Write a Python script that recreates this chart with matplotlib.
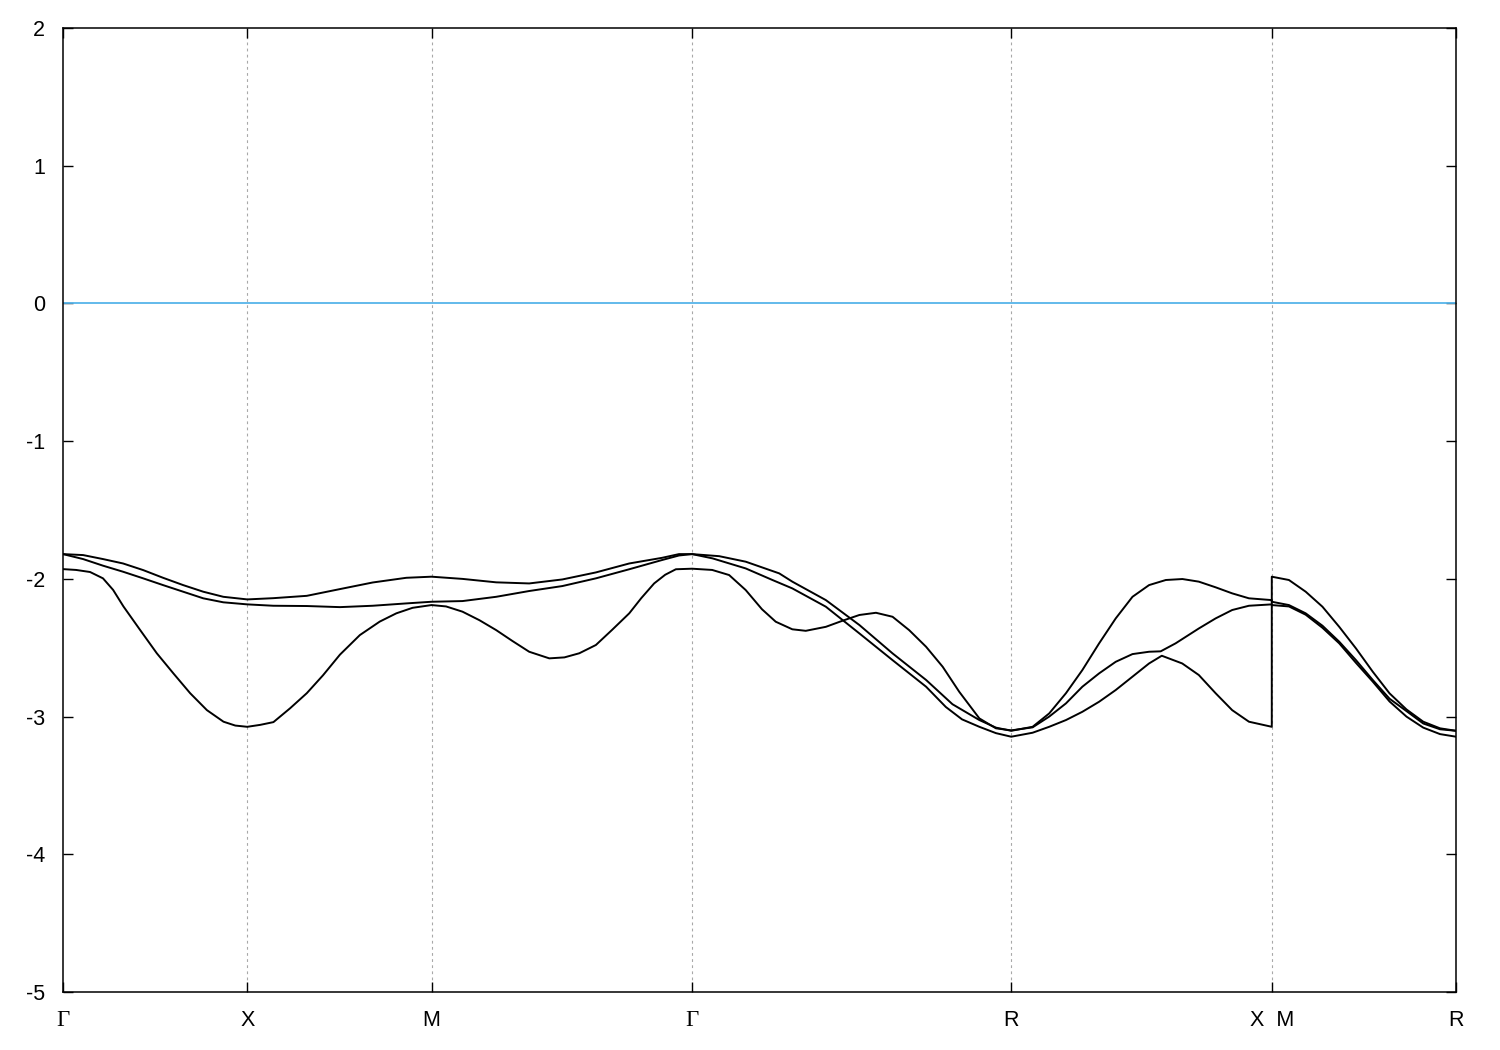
#======================================================================
#   IMPORTS:
#======================================================================

from matplotlib import pyplot as plt        # for plots


#======================================================================
#   GLOBALS:
#======================================================================

# high symmetry points along the k-path (path length units)
ls_nodes = [0.0, 1.0, 2.0, 3.414, 5.146, 6.560, 7.560]
ls_node_labels = ['\u0393', 'X', 'M', '\u0393', 'R', 'X  M', 'R']

# band A
ls_k_a = [0.0, 0.109, 0.217, 0.326, 0.435, 0.543, 0.652, 0.761, 0.870, 1.0,
          1.141, 1.323, 1.503, 1.681, 1.863, 2.0,
          2.168, 2.351, 2.530, 2.710, 2.892, 3.073, 3.251, 3.343, 3.414,
          3.561, 3.705, 3.887, 3.958, 4.140, 4.322, 4.502, 4.684, 4.827, 4.973, 5.063, 5.146,
          5.262, 5.352, 5.443, 5.532, 5.623, 5.713, 5.804, 5.894, 5.985, 6.075, 6.164, 6.255, 6.345, 6.436, 6.560,
          6.560, 6.653, 6.744, 6.835, 6.926, 7.017, 7.108, 7.199, 7.291, 7.382, 7.473, 7.560]
ls_e_a = [-1.82, -1.827, -1.856, -1.888, -1.936, -1.992, -2.045, -2.093, -2.13, -2.149,
          -2.14, -2.123, -2.074, -2.026, -1.992, -1.984,
          -2.0, -2.025, -2.033, -2.004, -1.953, -1.888, -1.847, -1.82, -1.82,
          -1.835, -1.875, -1.96, -2.02, -2.154, -2.335, -2.541, -2.734, -2.91, -3.025, -3.08, -3.103,
          -3.074, -2.977, -2.83, -2.662, -2.468, -2.287, -2.13, -2.045, -2.008, -2.001, -2.02, -2.061, -2.105, -2.141, -2.154,
          -2.166, -2.19, -2.25, -2.34, -2.456, -2.59, -2.734, -2.87, -2.96, -3.05, -3.092, -3.103]

# band B
ls_k_b = [0.0, 0.109, 0.217, 0.326, 0.435, 0.543, 0.652, 0.761, 0.870, 1.0,
          1.141, 1.323, 1.503, 1.681, 1.863, 2.0,
          2.168, 2.351, 2.530, 2.710, 2.892, 3.073, 3.251, 3.343, 3.414,
          3.525, 3.705, 3.850, 3.958, 4.140, 4.322, 4.502, 4.684, 4.791, 4.879, 4.973, 5.063, 5.146,
          5.262, 5.352, 5.443, 5.532, 5.623, 5.713, 5.804, 5.894, 5.963, 6.074, 6.164, 6.255, 6.345, 6.436, 6.560,
          6.560, 6.653, 6.744, 6.835, 6.926, 7.017, 7.108, 7.199, 7.291, 7.382, 7.473, 7.560]
ls_e_b = [-1.82, -1.856, -1.904, -1.948, -1.996, -2.045, -2.093, -2.141, -2.170, -2.185,
          -2.195, -2.197, -2.205, -2.195, -2.178, -2.166,
          -2.161, -2.13, -2.088, -2.052, -1.996, -1.93, -1.863, -1.83, -1.82,
          -1.851, -1.924, -2.008, -2.069, -2.202, -2.396, -2.59, -2.783, -2.93, -3.02, -3.074, -3.12, -3.146,
          -3.117, -3.074, -3.025, -2.965, -2.892, -2.807, -2.71, -2.614, -2.558, -2.614, -2.698, -2.83, -2.953, -3.037, -3.074,
          -1.984, -2.008, -2.093, -2.202, -2.348, -2.505, -2.674, -2.831, -2.948, -3.037, -3.085, -3.103]

# band C
ls_k_c = [0.0, 0.071, 0.147, 0.217, 0.272, 0.328, 0.418, 0.509, 0.599, 0.690, 0.781, 0.871, 0.935, 1.0,
          1.070, 1.142, 1.232, 1.323, 1.411, 1.503, 1.611, 1.719, 1.809, 1.897, 2.0,
          2.079, 2.168, 2.260, 2.351, 2.438, 2.530, 2.639, 2.721, 2.802, 2.892, 2.980, 3.073, 3.138, 3.208, 3.268, 3.326, 3.414,
          3.523, 3.615, 3.705, 3.793, 3.868, 3.958, 4.031, 4.140, 4.230, 4.322, 4.412, 4.502, 4.592, 4.684, 4.774, 4.864, 4.973, 5.063, 5.146,
          5.262, 5.352, 5.443, 5.532, 5.623, 5.713, 5.804, 5.894, 5.957, 6.038, 6.164, 6.255, 6.345, 6.436, 6.560,
          6.560, 6.653, 6.744, 6.835, 6.926, 7.017, 7.108, 7.199, 7.291, 7.382, 7.473, 7.560]
ls_e_c = [-1.929, -1.935, -1.95, -1.996, -2.08, -2.20, -2.37, -2.54, -2.686, -2.83, -2.953, -3.037, -3.065, -3.074,
          -3.06, -3.04, -2.94, -2.83, -2.70, -2.55, -2.408, -2.31, -2.25, -2.21, -2.19,
          -2.20, -2.238, -2.30, -2.372, -2.45, -2.529, -2.577, -2.57, -2.54, -2.48, -2.37, -2.25, -2.14, -2.033, -1.97, -1.93, -1.926,
          -1.935, -1.972, -2.081, -2.22, -2.311, -2.366, -2.377, -2.348, -2.304, -2.262, -2.246, -2.275, -2.372, -2.493, -2.638, -2.82, -3.013, -3.085, -3.10,
          -3.078, -3.0, -2.904, -2.783, -2.686, -2.602, -2.546, -2.529, -2.526, -2.468, -2.36, -2.287, -2.226, -2.195, -2.185,
          -2.19, -2.20, -2.26, -2.355, -2.468, -2.61, -2.746, -2.89, -3.0, -3.08, -3.127, -3.146]

f_fermi = 0.0       # fermi level
ls_yticks = [-5, -4, -3, -2, -1, 0, 1, 2]


#======================================================================
#   MAIN:
#======================================================================

if (__name__ == '__main__'):

    plt.rcParams['font.family'] = ['Liberation Sans', 'DejaVu Sans']
    plt.rcParams['axes.unicode_minus'] = False

    fig = plt.figure(figsize=(15, 10.5), dpi=100)
    ax = fig.add_axes([0.042, 0.0552, 0.9287, 0.9181])

    # vertical lines at the inner high symmetry points
    for f_x in ls_nodes[1:-1]:
        ax.axvline(f_x, color='#a8a8a8', lw=0.8, ls=(0, (2.5, 3)), zorder=1)

    ax.axhline(f_fermi, color='#56b4e9', lw=1.3, zorder=2)

    for ls_k, ls_e in [(ls_k_a, ls_e_a), (ls_k_b, ls_e_b), (ls_k_c, ls_e_c)]:
        ax.plot(ls_k, ls_e, color='black', lw=1.4, zorder=3,
                solid_joinstyle='round')

    ax.set_xlim(ls_nodes[0], ls_nodes[-1])
    ax.set_ylim(-5, 2)

    ax.set_xticks(ls_nodes)
    ax.set_xticklabels(ls_node_labels)
    ax.set_yticks(ls_yticks)

    ax.tick_params(direction='in', length=7, width=1, top=True, right=True,
                   labelsize=15.5)
    ax.tick_params(axis='y', pad=13)
    ax.tick_params(axis='x', pad=13)

    for lbl in ax.get_xticklabels():
        if lbl.get_text() == '\u0393':
            lbl.set_fontfamily(['Liberation Serif', 'DejaVu Serif'])
            lbl.set_fontsize(16.5)

    for s in ax.spines.values():
        s.set_linewidth(1.1)

    plt.savefig('out.png')
